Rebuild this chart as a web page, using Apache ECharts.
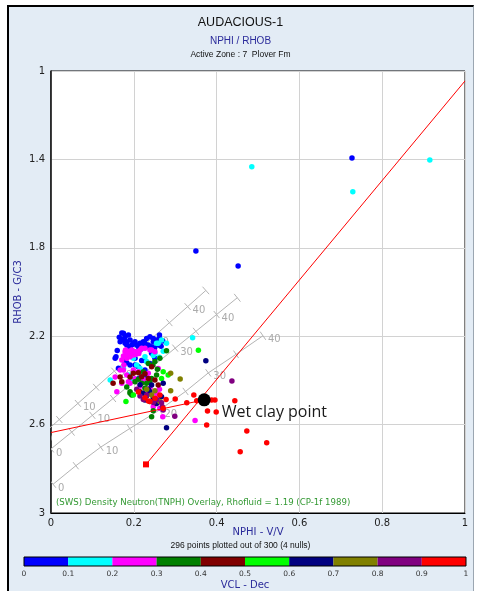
<!DOCTYPE html>
<html>
<head>
<meta charset="utf-8">
<script src="https://cdn.jsdelivr.net/npm/echarts@6/dist/echarts.min.js"></script>
<style>
  html, body { margin: 0; padding: 0; background: #fff; overflow: hidden; }
  #frame { position: absolute; left: 7px; top: 5px; width: 464px; height: 600px;
           background: #e3ecf5; border-left: 2px solid #000; border-top: 2px solid #000;
           border-right: 1px solid #9ba6b1; }
  #chart { position: absolute; left: 0; top: 0; width: 481px; height: 591px; }
</style>
</head>
<body>
<div id="frame"></div>
<div id="chart"></div>
<script>
// ---- Axis ticks ----
const nphiTicks = [0, 0.2, 0.4, 0.6, 0.8, 1];
const rhobTicks = [1, 1.4, 1.8, 2.2, 2.6, 3];

// ---- VCL colour classes ----
const vclBinEdges = [0, 0.1, 0.2, 0.3, 0.4, 0.5, 0.6, 0.7, 0.8, 0.9, 1];
const vclColors = ['#0000ff', '#00ffff', '#ff00ff', '#008000', '#800000',
                   '#00ff00', '#000080', '#808000', '#800080', '#ff0000'];

// ---- Samples [NPHI, RHOB], grouped by VCL class ----
const pointsVcl0 = [[0.175,2.187],[0.171,2.185],[0.187,2.195],[0.179,2.202],[0.165,2.205],[0.176,2.213],[0.171,2.217],[0.167,2.225],[0.183,2.225],[0.191,2.217],[0.179,2.232],[0.199,2.232],[0.203,2.225],[0.207,2.240],[0.215,2.232],[0.219,2.240],[0.223,2.225],[0.227,2.232],[0.231,2.210],[0.239,2.202],[0.247,2.210],[0.247,2.225],[0.255,2.217],[0.262,2.195],[0.262,2.210],[0.270,2.222],[0.254,2.232],[0.259,2.240],[0.266,2.245],[0.250,2.255],[0.235,2.240],[0.243,2.248],[0.231,2.248],[0.219,2.255],[0.211,2.248],[0.195,2.240],[0.191,2.248],[0.183,2.240],[0.187,2.262],[0.160,2.265],[0.199,2.270],[0.215,2.262],[0.211,2.277],[0.243,2.277],[0.251,2.300],[0.195,2.293],[0.203,2.300],[0.157,2.293],[0.155,2.300],[0.175,2.308],[0.227,2.310],[0.183,2.320],[0.219,2.310],[0.239,2.323],[0.191,2.330],[0.203,2.330],[0.211,2.338],[0.163,2.345],[0.227,2.353],[0.229,2.376],[0.213,2.390],[0.350,1.815],[0.452,1.882],[0.727,1.394]];
const pointsVcl1 = [[0.255,2.232],[0.267,2.217],[0.259,2.232],[0.279,2.232],[0.271,2.268],[0.251,2.277],[0.247,2.287],[0.262,2.295],[0.227,2.293],[0.231,2.315],[0.207,2.330],[0.199,2.300],[0.175,2.345],[0.215,2.345],[0.143,2.398],[0.195,2.391],[0.205,2.395],[0.219,2.376],[0.187,2.376],[0.342,2.207],[0.485,1.433],[0.729,1.546],[0.915,1.403]];
const pointsVcl2 = [[0.180,2.262],[0.188,2.268],[0.179,2.270],[0.187,2.277],[0.195,2.277],[0.203,2.270],[0.191,2.293],[0.183,2.300],[0.183,2.285],[0.175,2.290],[0.195,2.262],[0.199,2.285],[0.204,2.283],[0.212,2.278],[0.207,2.270],[0.215,2.262],[0.219,2.255],[0.227,2.255],[0.239,2.262],[0.243,2.262],[0.251,2.270],[0.171,2.308],[0.176,2.330],[0.175,2.353],[0.167,2.353],[0.183,2.376],[0.199,2.353],[0.211,2.361],[0.235,2.368],[0.259,2.346],[0.155,2.385],[0.187,2.406],[0.203,2.392],[0.223,2.398],[0.171,2.413],[0.191,2.413],[0.215,2.426],[0.159,2.451],[0.239,2.436],[0.262,2.440],[0.235,2.458],[0.255,2.458],[0.257,2.478],[0.251,2.504],[0.247,2.519],[0.263,2.526],[0.270,2.564],[0.348,2.582]];
const pointsVcl3 = [[0.279,2.266],[0.263,2.300],[0.235,2.323],[0.246,2.330],[0.251,2.315],[0.257,2.350],[0.223,2.361],[0.255,2.376],[0.203,2.406],[0.211,2.395],[0.239,2.405],[0.219,2.413],[0.231,2.413],[0.243,2.391],[0.183,2.430],[0.227,2.436],[0.191,2.451],[0.191,2.458],[0.195,2.466],[0.247,2.537],[0.243,2.564]];
const pointsVcl4 = [[0.243,2.338],[0.199,2.368],[0.227,2.370],[0.211,2.365],[0.219,2.383],[0.191,2.385],[0.167,2.385],[0.235,2.391],[0.251,2.398],[0.171,2.406],[0.150,2.413],[0.259,2.421],[0.215,2.451]];
const pointsVcl5 = [[0.356,2.264],[0.271,2.361],[0.283,2.376],[0.267,2.391],[0.199,2.466],[0.181,2.496]];
const pointsVcl6 = [[0.374,2.311],[0.271,2.413],[0.215,2.420],[0.243,2.421],[0.235,2.440],[0.239,2.451],[0.223,2.458],[0.231,2.470],[0.267,2.474],[0.247,2.481],[0.227,2.489],[0.255,2.504],[0.279,2.614]];
const pointsVcl7 = [[0.289,2.368],[0.312,2.394],[0.231,2.440],[0.251,2.447],[0.289,2.447],[0.243,2.466],[0.239,2.496],[0.263,2.496]];
const pointsVcl8 = [[0.437,2.403],[0.207,2.440],[0.215,2.471],[0.231,2.466],[0.223,2.486],[0.255,2.487],[0.247,2.500],[0.267,2.501],[0.269,2.519],[0.271,2.534],[0.299,2.562]];
const pointsVcl9 = [[0.211,2.453],[0.227,2.478],[0.263,2.466],[0.235,2.493],[0.239,2.496],[0.251,2.481],[0.271,2.526],[0.278,2.486],[0.300,2.484],[0.328,2.501],[0.345,2.466],[0.352,2.492],[0.388,2.489],[0.396,2.489],[0.378,2.538],[0.399,2.543],[0.444,2.492],[0.376,2.602],[0.473,2.629],[0.521,2.682],[0.457,2.723]];
const vclGroups = [pointsVcl0, pointsVcl1, pointsVcl2, pointsVcl3, pointsVcl4,
                   pointsVcl5, pointsVcl6, pointsVcl7, pointsVcl8, pointsVcl9];

// ---- Wet clay point and clay trend lines ----
const wetClayPoint = [0.370, 2.488];
const clayTrendSteep = [[0.2295, 2.78], [1.0, 1.045]];
const clayTrendFlat = [[0, 2.636], [0.370, 2.488]];

// ---- CP-1f lithology lines (porosity in %) ----
const porosityPct = [0, 5, 10, 15, 20, 25, 30, 35, 40, 45];
const sandstoneNphi = [-0.024, 0.020, 0.065, 0.109, 0.153, 0.197, 0.242, 0.286, 0.330, 0.374];
const sandstoneRhob = [2.650, 2.577, 2.504, 2.431, 2.358, 2.285, 2.212, 2.139, 2.066, 1.993];
const limestoneNphi = [0, 0.05, 0.10, 0.15, 0.20, 0.25, 0.30, 0.35, 0.40, 0.45];
const limestoneRhob = [2.710, 2.634, 2.558, 2.482, 2.406, 2.330, 2.254, 2.178, 2.102, 2.026];
const dolomiteNphi = [0.005, 0.060, 0.120, 0.190, 0.262, 0.325, 0.380, 0.447, 0.512];
const dolomiteRhob = [2.870, 2.786, 2.702, 2.618, 2.534, 2.450, 2.366, 2.282, 2.198];

const OVERLAY_GRAY = '#b4b4b4';
const FONT = 'DejaVu Sans';

function lithologySeries(nphi, rhob) {
  const pts = nphi.map((x, i) => [x, rhob[i], porosityPct[i]]);
  const line = {
    type: 'line', data: pts.map(p => [p[0], p[1]]), showSymbol: false, silent: true,
    lineStyle: { color: OVERLAY_GRAY, width: 1 }, z: 1, animation: false
  };
  const ticks = {
    type: 'custom', data: pts, clip: true, silent: true, z: 1, animation: false,
    encode: { x: 0, y: 1 },
    renderItem: function (params, api) {
      const i = params.dataIndex;
      const n = nphi.length;
      const p = api.coord([nphi[i], rhob[i]]);
      const a = api.coord([nphi[Math.max(i - 1, 0)], rhob[Math.max(i - 1, 0)]]);
      const b = api.coord([nphi[Math.min(i + 1, n - 1)], rhob[Math.min(i + 1, n - 1)]]);
      let dx = b[0] - a[0], dy = b[1] - a[1];
      const len = Math.hypot(dx, dy) || 1;
      dx /= len; dy /= len;
      const h = (i === n - 1) ? 5 : 4.5;
      const children = [{
        type: 'line',
        shape: { x1: p[0] - dy * h, y1: p[1] + dx * h, x2: p[0] + dy * h, y2: p[1] - dx * h },
        style: { stroke: OVERLAY_GRAY, lineWidth: 1 }
      }];
      const pct = porosityPct[i];
      if (pct % 10 === 0) {
        children.push({
          type: 'text',
          style: { text: String(pct), x: p[0] + 5, y: p[1] + 4, fill: '#ababab',
                   font: '10px ' + FONT, align: 'left', verticalAlign: 'middle' }
        });
      }
      return { type: 'group', children: children };
    }
  };
  return [line, ticks];
}

const chart = echarts.init(document.getElementById('chart'), null, { renderer: 'canvas' });

const scatterSeries = vclGroups.map((pts, k) => ({
  type: 'scatter', data: pts, symbolSize: 5.5, z: 3, animation: false,
  itemStyle: { color: vclColors[k], opacity: 1 }
}));

const option = {
  backgroundColor: 'transparent',
  animation: false,
  graphic: [
    { type: 'text', left: 'center', top: 16, style: { text: 'AUDACIOUS-1', font: '12.5px "Liberation Sans"', fill: '#111' } },
    { type: 'text', left: 'center', top: 36, style: { text: 'NPHI / RHOB', font: '10px "Liberation Sans"', fill: '#2b2b9b' } },
    { type: 'text', left: 'center', top: 50, style: { text: 'Active Zone : 7  Plover Fm', font: '8.5px "Liberation Sans"', fill: '#111' } },
    { type: 'text', left: 'center', top: 541, style: { text: '296 points plotted out of 300 (4 nulls)', font: '8.5px "Liberation Sans"', fill: '#111' } },
    { type: 'text', left: 56, top: 498, z: 10, style: { text: '(SWS) Density Neutron(TNPH) Overlay, Rhofluid = 1.19 (CP-1f 1989)', font: '8.6px ' + FONT, fill: '#339933' } }
  ],
  grid: [
    { left: 51, top: 71, width: 414, height: 442, show: true, backgroundColor: '#fff', borderColor: '#000', borderWidth: 1 },
    { left: 24, top: 557, width: 442, height: 9, show: true, backgroundColor: 'transparent', borderColor: '#000', borderWidth: 1, z: 5 }
  ],
  xAxis: [
    {
      gridIndex: 0, type: 'value', min: nphiTicks[0], max: nphiTicks[nphiTicks.length - 1], interval: 0.2,
      axisLine: { show: true, lineStyle: { color: '#000' } }, axisTick: { show: false },
      splitLine: { show: true, lineStyle: { color: '#d2d2d2', width: 1 } },
      axisLabel: { margin: 5, fontSize: 10, color: '#222', fontFamily: FONT },
      name: 'NPHI - V/V', nameLocation: 'middle', nameGap: 14, nameMoveOverlap: false,
      nameTextStyle: { color: '#2b2b9b', fontSize: 10, fontFamily: FONT }
    },
    {
      gridIndex: 1, type: 'value', min: vclBinEdges[0], max: vclBinEdges[vclBinEdges.length - 1], interval: 0.1,
      axisLine: { show: false }, axisTick: { show: false }, splitLine: { show: false },
      axisLabel: { margin: 4, fontSize: 7.5, color: '#333', fontFamily: FONT },
      name: 'VCL - Dec', nameLocation: 'middle', nameGap: 14,
      nameTextStyle: { color: '#2b2b9b', fontSize: 10, fontFamily: FONT }
    }
  ],
  yAxis: [
    {
      gridIndex: 0, type: 'value', inverse: true, min: rhobTicks[0], max: rhobTicks[rhobTicks.length - 1], interval: 0.4,
      axisLine: { show: true, lineStyle: { color: '#111', width: 1.5 } }, axisTick: { show: false },
      splitLine: { show: true, lineStyle: { color: '#d2d2d2', width: 1 } },
      axisLabel: { margin: 6, fontSize: 10, color: '#222', fontFamily: FONT },
      name: 'RHOB - G/C3', nameLocation: 'middle', nameGap: 28, nameRotate: 90, nameMoveOverlap: false,
      nameTextStyle: { color: '#2b2b9b', fontSize: 10, fontFamily: FONT }
    },
    { gridIndex: 1, type: 'value', min: 0, max: 1, show: false }
  ],
  series: [
    ...lithologySeries(sandstoneNphi, sandstoneRhob),
    ...lithologySeries(limestoneNphi, limestoneRhob),
    ...lithologySeries(dolomiteNphi, dolomiteRhob),
    ...scatterSeries,
    {
      type: 'line', silent: true, z: 4, animation: false,
      data: [
        { value: clayTrendSteep[0], symbol: 'rect', symbolSize: 6 },
        { value: clayTrendSteep[1], symbol: 'none' }
      ],
      showSymbol: true, itemStyle: { color: '#ff0000' },
      lineStyle: { color: '#ff0000', width: 1 }
    },
    {
      type: 'line', silent: true, z: 4, animation: false, data: clayTrendFlat, showSymbol: false,
      lineStyle: { color: '#ff0000', width: 1 }
    },
    {
      type: 'scatter', data: [wetClayPoint], symbolSize: 13, z: 6, animation: false,
      itemStyle: { color: '#000', opacity: 1 },
      label: { show: true, formatter: 'Wet clay point', position: 'right', distance: 11, offset: [0, 13],
               color: '#1a1a1a', fontSize: 16, fontFamily: 'Open Sans' }
    },
    {
      type: 'custom', xAxisIndex: 1, yAxisIndex: 1, silent: true, animation: false,
      data: vclColors.map((c, i) => [vclBinEdges[i], vclBinEdges[i + 1], i]),
      encode: { x: [0, 1] },
      renderItem: function (params, api) {
        const s = api.coord([api.value(0), 1]);
        const e = api.coord([api.value(1), 0]);
        return { type: 'rect', shape: { x: s[0], y: s[1], width: e[0] - s[0], height: e[1] - s[1] },
                 style: { fill: vclColors[api.value(2)] } };
      }
    }
  ]
};
chart.setOption(option);
</script>
</body>
</html>
